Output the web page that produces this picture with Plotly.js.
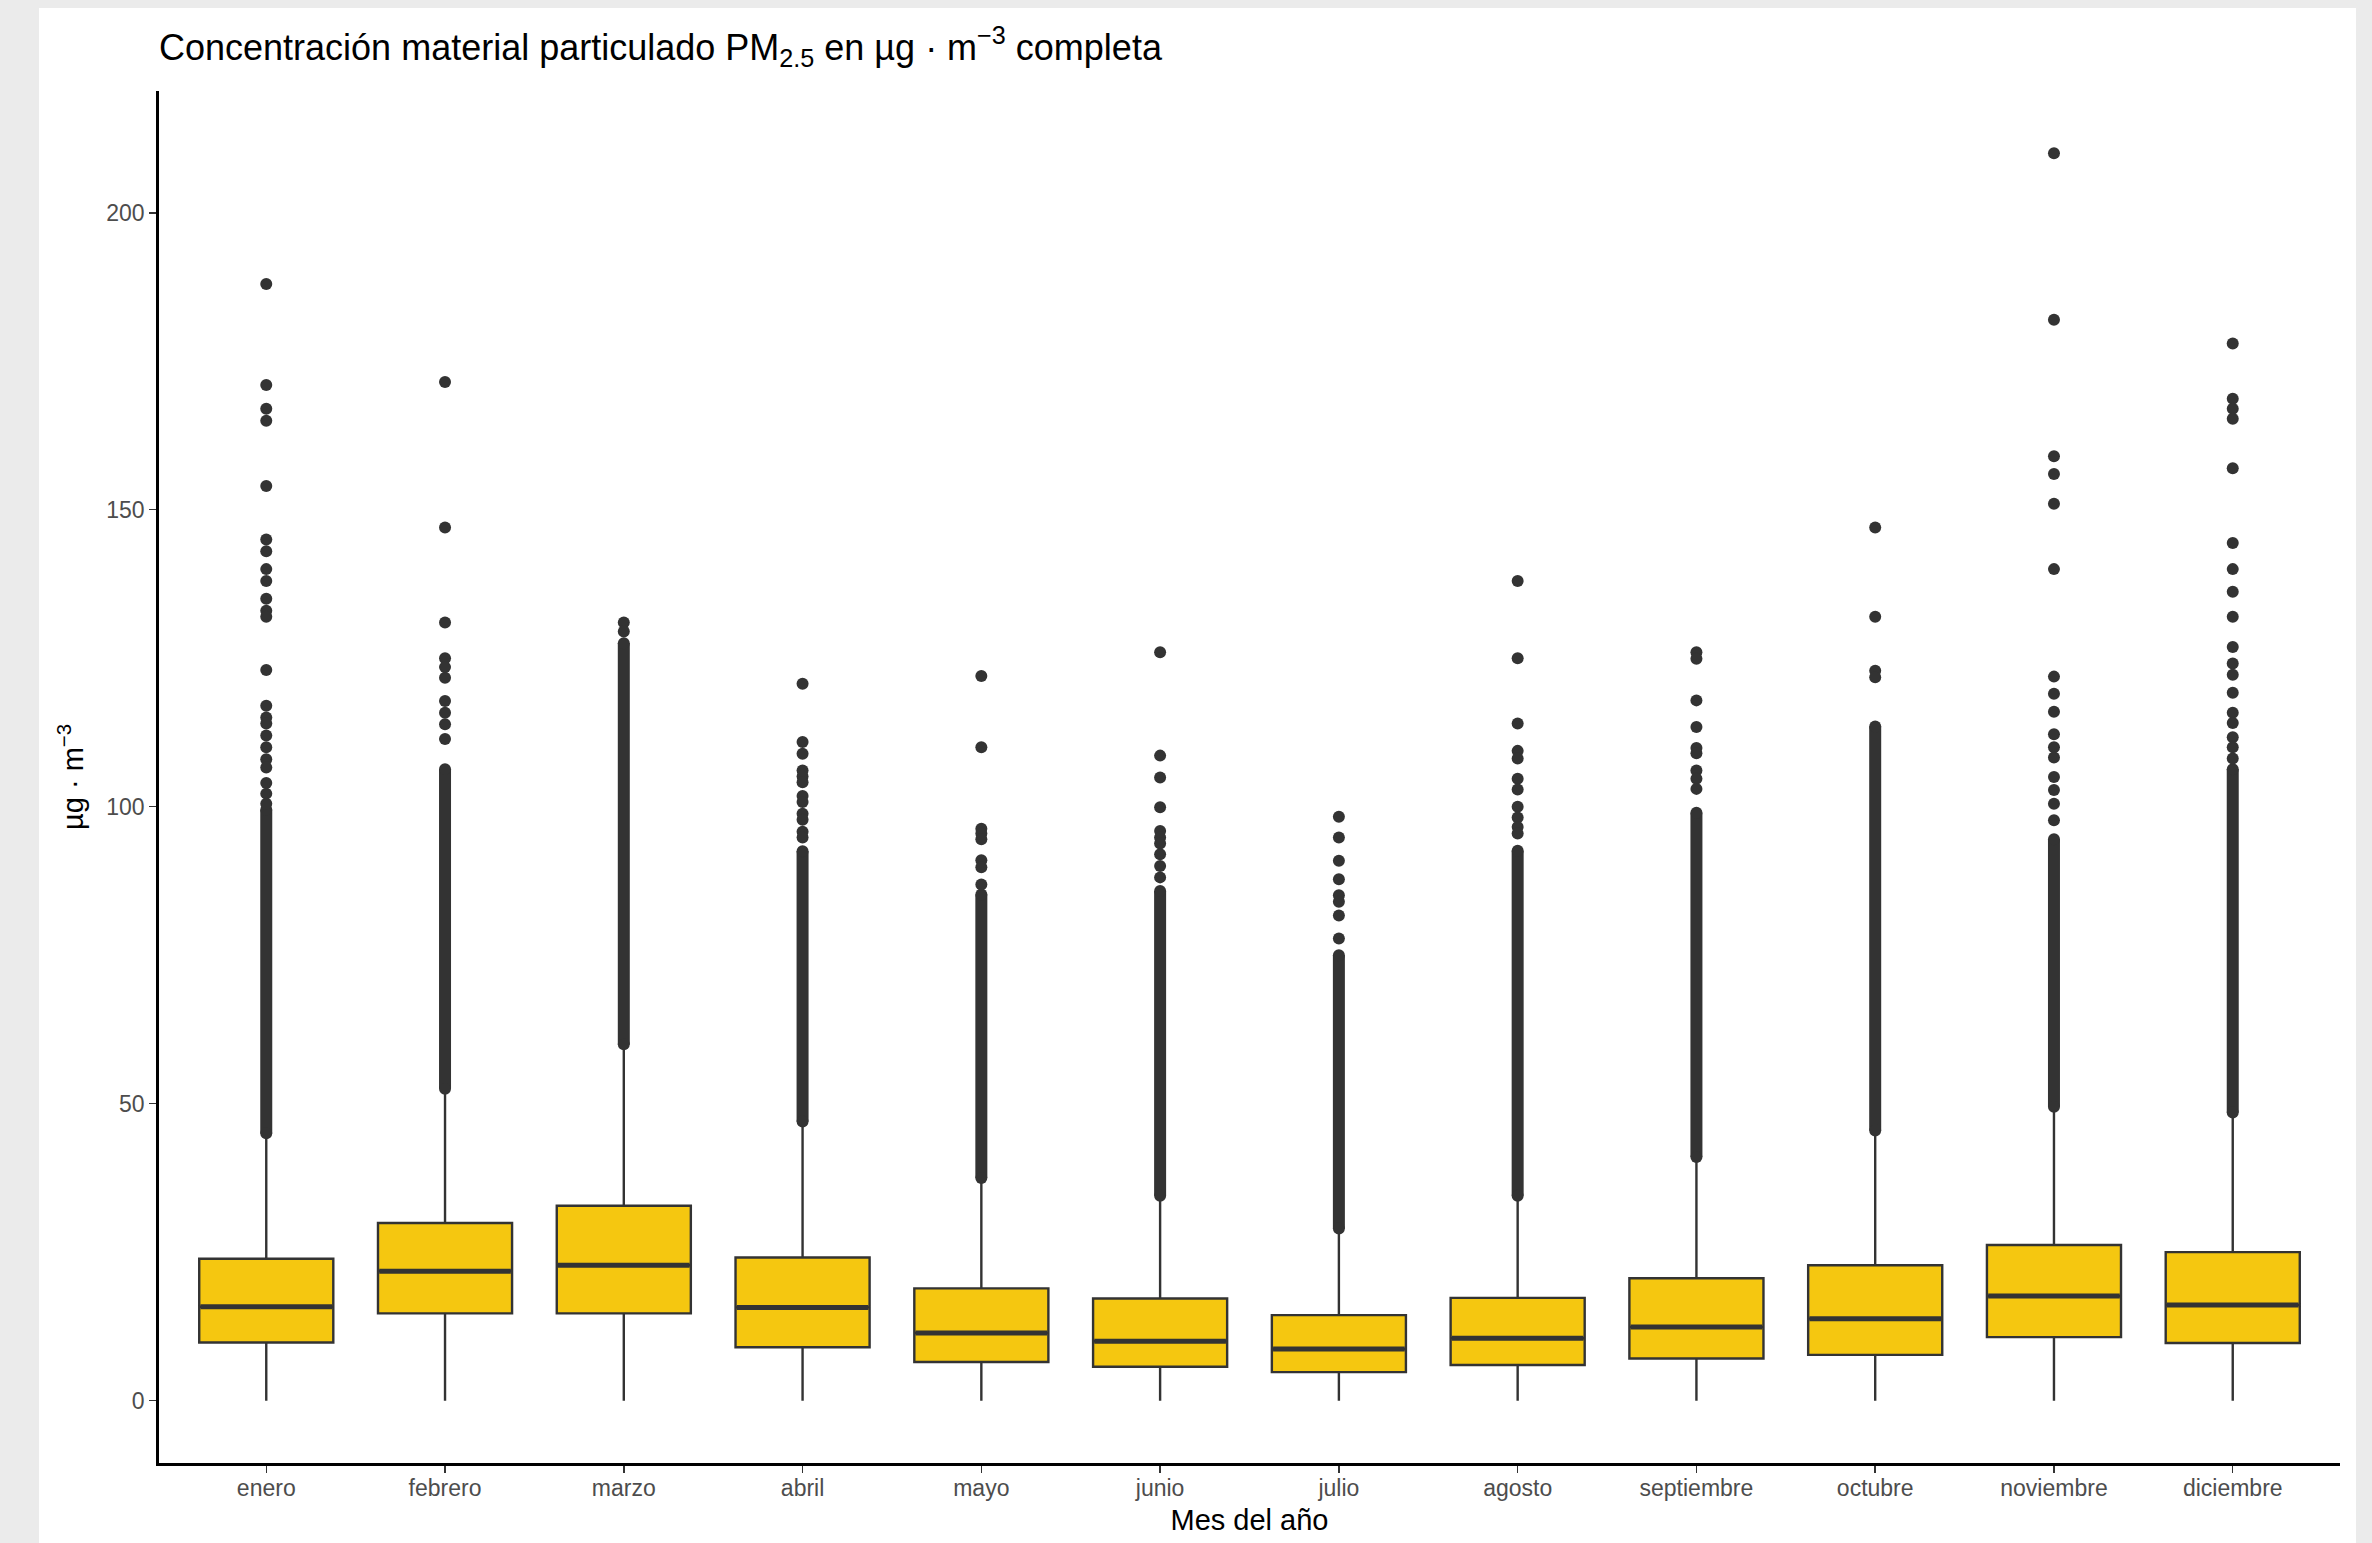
<!DOCTYPE html>
<html>
<head>
<meta charset="utf-8">
<script src="https://cdn.plot.ly/plotly-3.0.1.min.js"></script>
<style>
  html, body { margin: 0; padding: 0; background: #ebebeb; width: 2372px; height: 1543px; overflow: hidden; }
  #chart { position: absolute; left: 39px; top: 8px; width: 2317px; height: 1535px; background: #ffffff; }
</style>
</head>
<body>
<div id="chart"></div>
<script>
// ---- Data ----
const months = ["enero", "febrero", "marzo", "abril", "mayo", "junio", "julio", "agosto", "septiembre", "octubre", "noviembre", "diciembre"];

const q1Values      = [9.8, 14.7, 14.7, 9.0, 6.5, 5.7, 4.8, 6.0, 7.1, 7.7, 10.7, 9.7];
const medianValues  = [15.8, 21.8, 22.8, 15.7, 11.4, 10.0, 8.7, 10.5, 12.4, 13.8, 17.6, 16.1];
const q3Values      = [23.9, 29.9, 32.8, 24.1, 18.9, 17.2, 14.4, 17.3, 20.6, 22.8, 26.2, 25.0];
const lowerWhisker  = [0, 0, 0, 0, 0, 0, 0, 0, 0, 0, 0, 0];
const upperWhisker  = [44.5, 52, 59.5, 46.5, 37, 34, 28.5, 34, 40.5, 45, 49, 48];

// Outliers packed so tightly that they merge into a solid column: lowest and highest value of that run
const denseOutlierLow  = [45, 52.5, 60, 47, 37.5, 34.5, 29, 34.5, 41, 45.5, 49.5, 48.5];
const denseOutlierHigh = [99.5, 106.3, 127.5, 92.5, 85.2, 85.8, 75, 92.6, 99, 113.5, 94.5, 106.3];

// Separately visible outliers above the solid run
const outliersEnero      = [188, 171, 167, 165, 154, 145, 143, 140, 138, 135, 133, 132, 123, 117, 115, 114, 112, 110, 108, 106.6, 104, 102.2, 100.5];
const outliersFebrero    = [171.5, 147, 131, 125, 123.5, 121.7, 117.8, 115.8, 113.9, 111.4];
const outliersMarzo      = [131, 129.5];
const outliersAbril      = [120.7, 110.9, 108.9, 106.1, 105.1, 104.1, 101.8, 100.8, 98.8, 97.8, 95.8, 94.8];
const outliersMayo       = [122, 110, 96.3, 95.5, 94.5, 91, 89.8, 86.9];
const outliersJunio      = [126, 108.6, 104.9, 99.9, 95.9, 94.8, 93.8, 92, 90, 88.1];
const outliersJulio      = [98.3, 94.8, 90.9, 87.8, 85.1, 84, 81.7, 77.8];
const outliersAgosto     = [138, 125, 114, 109.4, 108.1, 104.7, 102.9, 100, 98.2, 96.6, 95.5];
const outliersSeptiembre = [126, 124.9, 117.9, 113.4, 109.9, 109, 106.1, 104.7, 103];
const outliersOctubre    = [147, 132, 122.9, 121.8];
const outliersNoviembre  = [210, 182, 159, 156, 151, 140, 121.9, 119, 116, 112.2, 110, 108.3, 105, 102.8, 100.5, 97.7];
const outliersDiciembre  = [178, 168.7, 167, 165.3, 157, 144.4, 140, 136.2, 132, 126.9, 124.1, 122.2, 119.2, 115.8, 114.1, 111.7, 110, 108.1];

const outliersByMonth = [outliersEnero, outliersFebrero, outliersMarzo, outliersAbril, outliersMayo, outliersJunio,
  outliersJulio, outliersAgosto, outliersSeptiembre, outliersOctubre, outliersNoviembre, outliersDiciembre];

const yTicks = [0, 50, 100, 150, 200];

// ---- Styles ----
const fillColor = "#F5C710";
const inkColor = "#333333";
const pointSize = 12;

// ---- Traces ----
const boxTrace = {
  type: "box",
  x: months,
  q1: q1Values,
  median: medianValues,
  q3: q3Values,
  lowerfence: lowerWhisker,
  upperfence: upperWhisker,
  boxpoints: false,
  whiskerwidth: 0,
  fillcolor: fillColor,
  line: { color: inkColor, width: 2.4 },
  hoverinfo: "skip",
  showlegend: false
};

// solid runs of outliers
const denseX = [], denseY = [];
months.forEach((m, i) => {
  denseX.push(m, m, null);
  denseY.push(denseOutlierLow[i], denseOutlierHigh[i], null);
});
const denseTrace = {
  type: "scatter",
  mode: "lines+markers",
  x: denseX,
  y: denseY,
  line: { color: inkColor, width: pointSize },
  marker: { color: inkColor, size: pointSize },
  connectgaps: false,
  hoverinfo: "skip",
  showlegend: false
};

// single outliers
const outX = [], outY = [];
months.forEach((m, i) => {
  outliersByMonth[i].forEach(v => { outX.push(m); outY.push(v); });
});
const outlierTrace = {
  type: "scatter",
  mode: "markers",
  x: outX,
  y: outY,
  marker: { color: inkColor, size: pointSize },
  hoverinfo: "y",
  showlegend: false
};

// heavier median bar (ggplot draws it twice as thick)
const medianTrace = {
  type: "scatter",
  mode: "markers",
  x: months,
  y: medianValues,
  marker: { symbol: "line-ew", size: 94, color: inkColor, line: { color: inkColor, width: 5 } },
  hoverinfo: "skip",
  showlegend: false
};

const fontFamily = "'Liberation Sans', Arial, Helvetica, sans-serif";

const layout = {
  width: 2317,
  height: 1535,
  paper_bgcolor: "#ffffff",
  plot_bgcolor: "#ffffff",
  margin: { l: 120, r: 16, t: 83, b: 80 },
  showlegend: false,
  boxgap: 0.25,
  boxgroupgap: 0,
  font: { family: fontFamily, color: "#000000" },
  title: {
    text: "Concentración material particulado PM<sub>2.5</sub> en µg · m<sup>−3</sup> completa",
    font: { family: fontFamily, size: 36, color: "#000000" },
    x: 0, xref: "paper", xanchor: "left",
    y: 1 - 39 / 1535, yref: "container", yanchor: "middle"
  },
  xaxis: {
    type: "category",
    range: [-0.6, 11.6],
    showline: true, linecolor: "#000000", linewidth: 2.8,
    ticks: "outside", ticklen: 7, tickwidth: 1.5, tickcolor: inkColor,
    ticklabelstandoff: -4,
    tickfont: { family: fontFamily, size: 23, color: "#4d4d4d" },
    showgrid: false, zeroline: false,
    automargin: false, fixedrange: true,
    title: { text: "Mes del año", font: { family: fontFamily, size: 29, color: "#000000" }, standoff: 10 }
  },
  yaxis: {
    range: [-10.5, 220.5],
    tickmode: "array", tickvals: yTicks, ticktext: yTicks.map(String),
    showline: true, linecolor: "#000000", linewidth: 2.8,
    ticks: "outside", ticklen: 7, tickwidth: 1.5, tickcolor: inkColor,
    tickfont: { family: fontFamily, size: 23, color: "#4d4d4d" },
    showgrid: false, zeroline: false,
    automargin: false, fixedrange: true,
    title: { text: "µg · m<sup>−3</sup>", font: { family: fontFamily, size: 29, color: "#000000" }, standoff: 14 }
  }
};

Plotly.newPlot("chart", [boxTrace, denseTrace, outlierTrace, medianTrace], layout, { displayModeBar: false, staticPlot: true });
</script>
</body>
</html>
